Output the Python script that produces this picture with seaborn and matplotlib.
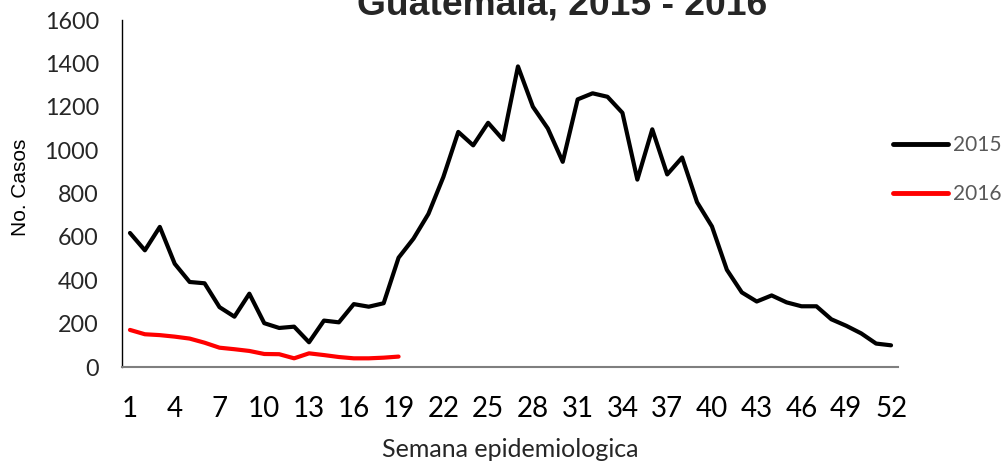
import matplotlib
matplotlib.use("Agg")
import matplotlib.pyplot as plt
import seaborn as sns
import pandas as pd

weeks_2015 = list(range(1, 53))
cases_2015 = [618, 538, 646, 476, 392, 386, 276, 232, 338, 202, 180, 186, 114, 214, 206,
              290, 278, 294, 504, 592, 706, 876, 1084, 1022, 1126, 1048, 1386, 1200, 1100,
              946, 1234, 1262, 1246, 1172, 864, 1096, 888, 966, 760, 648, 448, 344, 302,
              330, 298, 280, 280, 220, 190, 155, 108, 100]
weeks_2016 = list(range(1, 20))
cases_2016 = [171, 151, 147, 140, 131, 112, 89, 82, 74, 60, 59, 40, 63, 55, 46, 40, 40, 43, 48]
series_names = ["2015", "2016"]
xtick_weeks = list(range(1, 53, 3))
yticks = list(range(0, 1601, 200))

df = pd.concat([
    pd.DataFrame({"Semana": weeks_2015, "Casos": cases_2015, "Año": series_names[0]}),
    pd.DataFrame({"Semana": weeks_2016, "Casos": cases_2016, "Año": series_names[1]}),
])

sns.set_style("white")
plt.rcParams["font.family"] = ["Lato", "DejaVu Sans"]

fig = plt.figure(figsize=(10.04, 4.65), dpi=100)
ax = fig.add_axes([122.5 / 1004, 1 - 367 / 465, 776 / 1004, 347 / 465])

sns.lineplot(data=df, x="Semana", y="Casos", hue="Año",
             palette={"2015": "#000000", "2016": "#FF0000"},
             linewidth=3.0, ax=ax, legend=True)

ax.set_xlim(0.5, 52.5)
ax.set_ylim(0, 1600)
ax.set_xticks(xtick_weeks)
ax.set_xticklabels([str(w) for w in xtick_weeks], fontsize=20, color="#000000")
ax.set_yticks(yticks)
ax.set_yticklabels([str(v) for v in yticks], fontsize=16.8, color="#262626")
ax.tick_params(axis="x", length=0, pad=21)
ax.tick_params(axis="y", length=0, pad=17)

for s in ["top", "right"]:
    ax.spines[s].set_visible(False)
ax.spines["bottom"].set_color("#7f7f7f")
ax.spines["bottom"].set_linewidth(1.5)
ax.spines["left"].set_color("#000000")
ax.spines["left"].set_linewidth(1.0)

ax.set_xlabel("Semana epidemiologica", fontsize=18, color="#262626")
ax.xaxis.set_label_coords(0.5, -0.205)
ax.set_ylabel("No. Casos", fontsize=15, color="#000000",
              family=["Liberation Sans", "DejaVu Sans"])
ax.yaxis.set_label_coords((30 - 122.5) / 776, 0.519)

handles, labels = ax.get_legend_handles_labels()
leg = ax.legend(handles, labels, loc="upper left",
                bbox_to_anchor=(893 / 1004, 1 - 135 / 465), bbox_transform=fig.transFigure,
                frameon=False, fontsize=15, handlelength=2.65, handletextpad=0.25,
                labelspacing=1.4, borderpad=0, borderaxespad=0)
for t in leg.get_texts():
    t.set_color("#595959")
for l in leg.get_lines():
    l.set_linewidth(3.5)

fig.text(562 / 1004, 1 - 15 / 465, "Guatemala, 2015 - 2016", ha="center", va="baseline",
         fontsize=26.8, fontweight="bold", family=["Liberation Sans", "DejaVu Sans"])

fig.savefig("out.png", dpi=100)
